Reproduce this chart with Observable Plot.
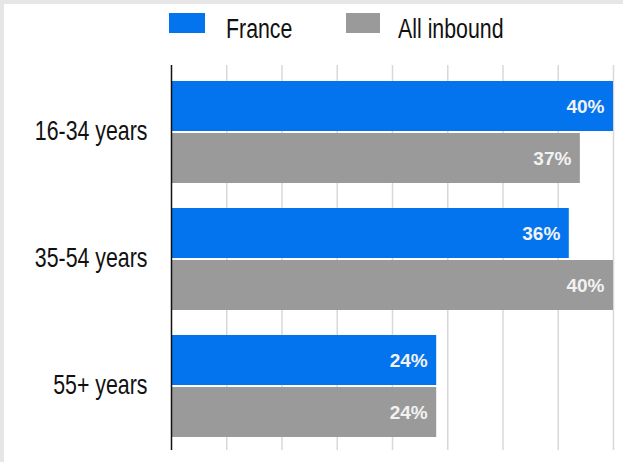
<!DOCTYPE html>
<html>
<head>
<meta charset="utf-8">
<script src="https://cdn.jsdelivr.net/npm/d3@7"></script>
<script src="https://cdn.jsdelivr.net/npm/@observablehq/plot@0.6"></script>
<style>
  html, body { margin: 0; padding: 0; background: #fff; }
  #wrap {
    position: relative; width: 623px; height: 462px; box-sizing: border-box;
    border-top: 4px solid #e6e6e6; border-left: 4px solid #e6e6e6; background: #fff;
    overflow: hidden;
  }
  #legend { position: absolute; left: 0; top: 0; width: 619px; height: 56px;
    font-family: "Liberation Sans", Arial, sans-serif; font-size: 27px; color: #111; }
  #legend .sw { position: absolute; height: 20px; top: 9px; }
  #legend .lab { position: absolute; top: 11.5px; line-height: 27px; white-space: nowrap;
    transform: scaleX(0.79); transform-origin: 0 0; }
  #chart { position: absolute; left: 0; top: 56px; }
  #chart svg { display: block; }
</style>
</head>
<body>
<div id="wrap">
  <div id="legend"></div>
  <div id="chart"></div>
</div>
<script>
const ageGroups = ["16-34 years", "35-54 years", "55+ years"];
const seriesNames = ["France", "All inbound"];
const franceValues = [40, 36, 24];
const allInboundValues = [37, 40, 24];
const seriesColors = ["#0374ee", "#9a9a9a"];
const gridTicks = [5, 10, 15, 20, 25, 30, 35, 40];

const rows = [];
ageGroups.forEach((g, i) => {
  rows.push({age: g, series: seriesNames[0], value: franceValues[i]});
  rows.push({age: g, series: seriesNames[1], value: allInboundValues[i]});
});
const franceRows = rows.filter(d => d.series === seriesNames[0]);
const allRows = rows.filter(d => d.series === seriesNames[1]);

// legend (positions in wrap coordinates)
const legendLayout = [{sw: 165, swW: 36, lab: 222}, {sw: 342, swW: 34, lab: 394}];
const legend = document.getElementById("legend");
seriesNames.forEach((s, i) => {
  const sw = document.createElement("span");
  sw.className = "sw";
  sw.style.background = seriesColors[i];
  sw.style.left = legendLayout[i].sw + "px";
  sw.style.width = legendLayout[i].swW + "px";
  const lab = document.createElement("span");
  lab.className = "lab";
  lab.style.left = legendLayout[i].lab + "px";
  lab.textContent = s;
  legend.appendChild(sw); legend.appendChild(lab);
});

const half = 52;
const labelFont = {fontFamily: "'Liberation Sans', Arial, sans-serif", fontSize: 19, fontWeight: "bold"};

const chart = Plot.plot({
  width: 619,
  height: 402,
  marginTop: 5,
  marginBottom: 12,
  marginLeft: 167,
  marginRight: 10,
  style: {fontFamily: "'Liberation Sans', Arial, sans-serif", fontSize: "27px", color: "#111", background: "transparent"},
  x: {domain: [0, 40], axis: null},
  y: {domain: ageGroups, paddingInner: 0.2, paddingOuter: 0.1, insetTop: 2, tickSize: 0, tickPadding: 24, label: null},
  marks: [
    Plot.ruleX(gridTicks, {stroke: "#d8d8d8", strokeWidth: 1.5}),
    Plot.barX(franceRows, {x: "value", y: "age", fill: seriesColors[0], insetBottom: half}),
    Plot.barX(allRows, {x: "value", y: "age", fill: seriesColors[1], insetTop: half}),
    Plot.ruleX([0], {stroke: "#111", strokeWidth: 1.5}),
    Plot.text(franceRows, {x: "value", y: "age", text: d => d.value + "%", textAnchor: "end", dx: -9, dy: -26, fill: "#f2f2f2", ...labelFont}),
    Plot.text(allRows, {x: "value", y: "age", text: d => d.value + "%", textAnchor: "end", dx: -9, dy: 26, fill: "#f2f2f2", ...labelFont})
  ]
});
document.getElementById("chart").appendChild(chart);

// condense the y-axis tick labels horizontally (keep right edge fixed)
const ageSet = new Set(ageGroups);
chart.querySelectorAll("text").forEach(t => {
  if (!ageSet.has(t.textContent)) return;
  const b = t.getBBox();
  const r = b.x + b.width;
  const prev = t.getAttribute("transform") || "";
  t.setAttribute("transform", `${prev} translate(${r},-1.5) scale(0.79,1) translate(${-r},0)`);
});
</script>
</body>
</html>
